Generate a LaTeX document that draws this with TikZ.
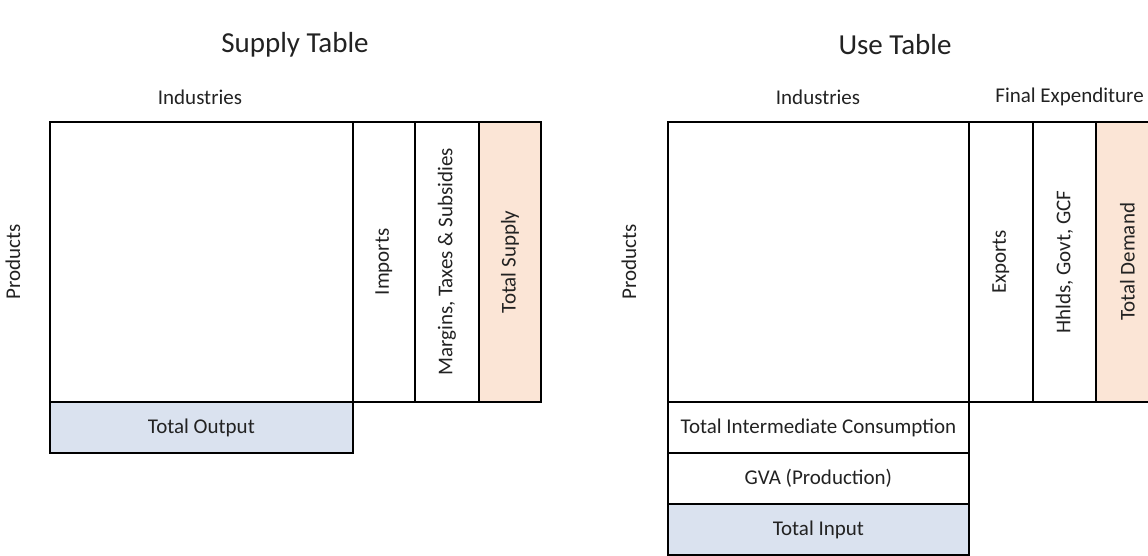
\documentclass[tikz,border=0pt]{standalone}
\usepackage{fontspec}
\setmainfont{Carlito}
\definecolor{txt}{HTML}{222222}
\definecolor{peach}{HTML}{FBE5D6}
\definecolor{paleblue}{HTML}{DAE2EF}
\tikzset{
  cell/.style={draw=black, line width=1.8pt, rectangle, anchor=north west, inner sep=0pt, text=txt, font=\fontsize{21}{24}\selectfont},
  lbl/.style={text=txt, font=\fontsize{21}{24}\selectfont, inner sep=0pt},
  ttl/.style={text=txt, font=\fontsize{29}{34}\selectfont, inner sep=0pt}
}
\begin{document}
\begin{tikzpicture}[x=1pt,y=-1pt]
\useasboundingbox (0,0) rectangle (1148,556);
\clip (0,0) rectangle (1148,556);
% titles
\node[ttl] (t1) at (295,45) {Supply Table};
\node[ttl] (t2) at (895,45) {Use Table};
% Supply table
\node[lbl] (sind) at (200,97) {Industries};
\node[lbl, rotate=90] (sprod) at (13,262) {Products};
\node[cell, minimum width=303, minimum height=280] (smain) at (49,121) {};
\node[cell, minimum width=62, minimum height=280] (simp) at (352,121) {};
\node[lbl, rotate=90] at (simp.center) {Imports};
\node[cell, minimum width=64, minimum height=280] (smar) at (414,121) {};
\node[lbl, rotate=90] at (smar.center) {Margins, Taxes \& Subsidies};
\node[cell, fill=peach, minimum width=62, minimum height=280] (stot) at (478,121) {};
\node[lbl, rotate=90] at (stot.center) {Total Supply};
\node[cell, fill=paleblue, minimum width=303, minimum height=51] (sout) at (49,401) {Total Output};
% Use table
\node[lbl] (uind) at (818,97) {Industries};
\node[lbl, anchor=east] (ufin) at (1144,97) {Final Expenditure};
\node[lbl, rotate=90] (uprod) at (629,262) {Products};
\node[cell, minimum width=301, minimum height=280] (umain) at (667,121) {};
\node[cell, minimum width=64, minimum height=280] (uexp) at (968,121) {};
\node[lbl, rotate=90] at (uexp.center) {Exports};
\node[cell, minimum width=63, minimum height=280] (uhh) at (1032,121) {};
\node[lbl, rotate=90] at (uhh.center) {Hhlds, Govt, GCF};
\node[cell, fill=peach, minimum width=63, minimum height=280] (utot) at (1095,121) {};
\node[lbl, rotate=90] at (utot.center) {Total Demand};
\node[cell, minimum width=301, minimum height=51] (utic) at (667,401) {Total Intermediate Consumption};
\node[cell, minimum width=301, minimum height=51] (ugva) at (667,452) {GVA (Production)};
\node[cell, fill=paleblue, minimum width=301, minimum height=51] (uinp) at (667,503) {Total Input};
\end{tikzpicture}
\end{document}
